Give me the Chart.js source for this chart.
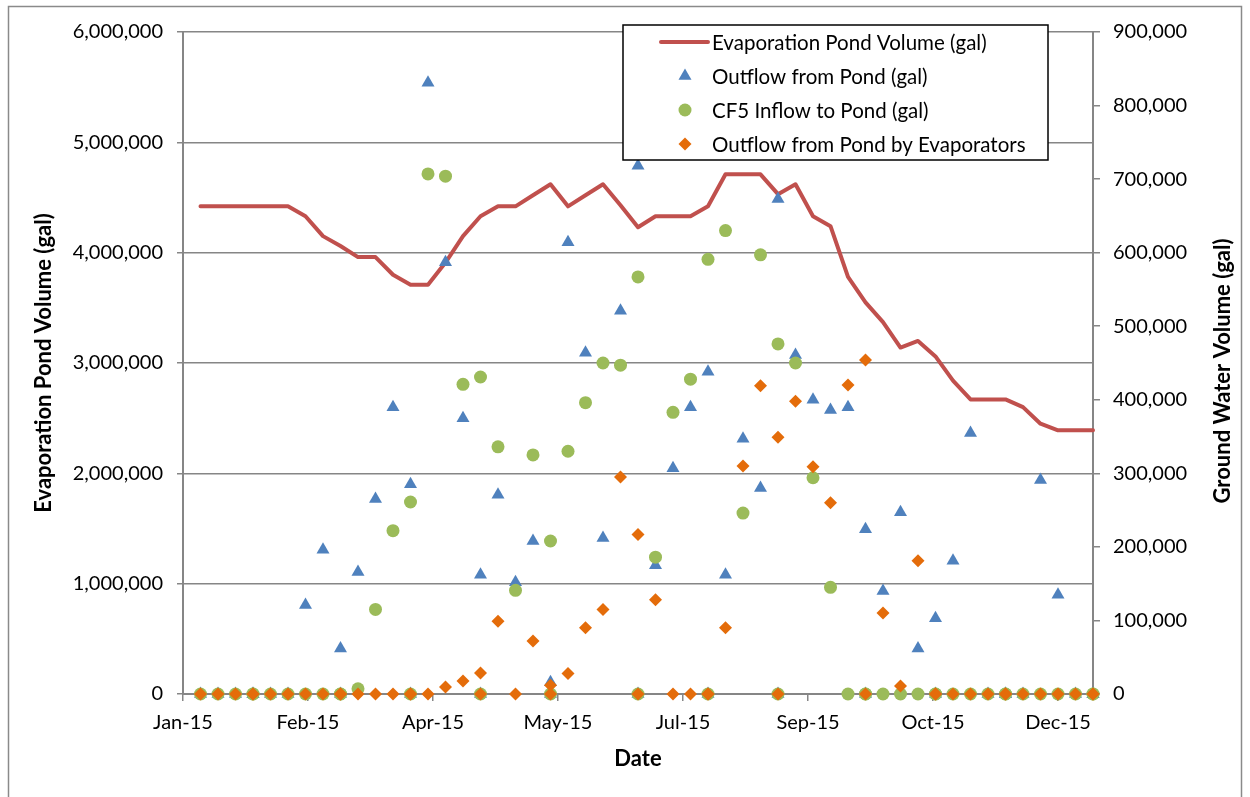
<!DOCTYPE html>
<html>
<head>
<meta charset="utf-8">
<title>Evaporation Pond Volume 2015</title>
<script src="https://cdn.jsdelivr.net/npm/chart.js@4.4.1/dist/chart.umd.min.js"></script>
<style>
  html, body { margin: 0; padding: 0; background: #ffffff; }
  #wrap { width: 1250px; height: 797px; }
</style>
</head>
<body>
<div id="wrap"><canvas id="chart" width="1250" height="797"></canvas></div>
<script>
// Weekly reading dates (2015)
const weekDates = [
  '2015-01-08','2015-01-15','2015-01-22','2015-01-29',
  '2015-02-05','2015-02-12','2015-02-19','2015-02-26',
  '2015-03-05','2015-03-12','2015-03-19','2015-03-26',
  '2015-04-02','2015-04-09','2015-04-16','2015-04-23','2015-04-30',
  '2015-05-07','2015-05-14','2015-05-21','2015-05-28',
  '2015-06-04','2015-06-11','2015-06-18','2015-06-25',
  '2015-07-02','2015-07-09','2015-07-16','2015-07-23','2015-07-30',
  '2015-08-06','2015-08-13','2015-08-20','2015-08-27',
  '2015-09-03','2015-09-10','2015-09-17','2015-09-24',
  '2015-10-01','2015-10-08','2015-10-15','2015-10-22','2015-10-29',
  '2015-11-05','2015-11-12','2015-11-19','2015-11-26',
  '2015-12-03','2015-12-10','2015-12-17','2015-12-24','2015-12-31'
];

// Evaporation pond volume (gal), left axis
const pondVolume = [
  4420000, 4420000, 4420000, 4420000,
  4420000, 4420000, 4330000, 4150000,
  4060000, 3960000, 3960000, 3800000,
  3710000, 3710000, 3910000, 4150000, 4330000,
  4420000, 4420000, 4520000, 4620000,
  4420000, 4520000, 4620000, 4430000,
  4230000, 4330000, 4330000, 4330000, 4420000,
  4710000, 4710000, 4710000, 4530000,
  4620000, 4330000, 4240000, 3780000,
  3550000, 3370000, 3140000, 3200000, 3060000,
  2840000, 2670000, 2670000, 2670000,
  2600000, 2450000, 2390000, 2390000, 2390000
];

// Outflow from pond (gal), right axis
const outflow = [
  0, 0, 0, 0,
  0, 0, 121000, 196000,
  62000, 166000, 265000, 390000,
  285000, 831000, 587000, 375000, 162000,
  271000, 152000, 208000, 16000,
  614000, 464000, 212000, 521000,
  718000, 175000, 307000, 390000, 438000,
  162000, 347000, 280000, 673000,
  461000, 400000, 386000, 390000,
  224000, 140000, 247000, 62000, 103000,
  181000, 355000, 0, 0,
  0, 291000, 135000, 0, 0
];

// CF5 inflow to pond (gal), right axis
const cf5Inflow = [
  0, 0, 0, 0,
  0, 0, 0, 0,
  0, 7000, 115000, 222000,
  261000, 707000, 704000, 421000, 431000,
  336000, 141000, 325000, 208000,
  330000, 396000, 450000, 447000,
  567000, 186000, 383000, 428000, 591000,
  630000, 246000, 597000, 476000,
  450000, 294000, 145000, 0,
  0, 0, 0, 0, 0,
  0, 0, 0, 0,
  0, 0, 0, 0, 0
];

// Outflow from pond by evaporators (gal), right axis
const evaporatorOutflow = [
  0, 0, 0, 0,
  0, 0, 0, 0,
  0, 0, 0, 0,
  0, 0, 9500, 17700, 28500,
  99000, 0, 72000, 12000,
  28000, 90000, 115000, 295000,
  217000, 128000, 0, 0, 0,
  90000, 310000, 419000, 349000,
  398000, 309000, 260000, 420000,
  454000, 110000, 11000, 181000, 0,
  0, 0, 0, 0,
  0, 0, 0, 0, 0
];

// Month-end records logged with zero flow in every column
const zeroRecordDates = [
  '2015-01-29','2015-03-05','2015-04-02','2015-04-30','2015-05-28','2015-07-02',
  '2015-07-30','2015-08-27','2015-10-01','2015-10-29','2015-11-26','2015-12-31'
];

// Axis settings
const axisStartDate = '2015-01-01';
const axisEndDate = '2015-12-31';
const dateTickStepDays = 50;
const leftAxisMax = 6000000, leftAxisStep = 1000000;
const rightAxisMax = 900000, rightAxisStep = 100000;
const leftAxisTitle = 'Evaporation Pond Volume (gal)';
const rightAxisTitle = 'Ground Water Volume (gal)';
const monthNames = ['Jan','Feb','Mar','Apr','May','Jun','Jul','Aug','Sep','Oct','Nov','Dec'];

const DAY_MS = 86400000;
const parseDay = s => { const [y, m, d] = s.split('-').map(Number); return Date.UTC(y, m - 1, d); };
const startMs = parseDay(axisStartDate);
const dayIndex = s => Math.round((parseDay(s) - startMs) / DAY_MS);
const formatDay = v => {
  const dt = new Date(startMs + v * DAY_MS);
  return monthNames[dt.getUTCMonth()] + '-' + String(dt.getUTCFullYear()).slice(2);
};

const seriesPoints = values =>
  weekDates.map((d, i) => ({ x: dayIndex(d), y: values[i] }))
    .concat(zeroRecordDates.map(d => ({ x: dayIndex(d), y: 0 })));

const GRID = '#868686';
const FONT = 'Lato';

// Outer chart frame, right-axis title (reading upward) and the boxed legend
const framePlugin = {
  id: 'frameAndLegend',
  afterDraw(chart) {
    const ctx = chart.ctx;
    ctx.save();
    // outer frame
    ctx.strokeStyle = '#8a8a8a';
    ctx.lineWidth = 1.5;
    ctx.strokeRect(8.5, 6.5, 1233, 810);

    // right axis title, rotated like the left one
    const area = chart.chartArea;
    ctx.save();
    ctx.translate(1223, (area.top + area.bottom) / 2 + 8);
    ctx.rotate(-Math.PI / 2);
    ctx.fillStyle = '#000000';
    ctx.font = 'bold 22px ' + FONT;
    ctx.textAlign = 'center';
    ctx.textBaseline = 'middle';
    ctx.fillText(rightAxisTitle, 0, 0);
    ctx.restore();

    // legend box
    const box = { x: 623, y: 25, w: 425, h: 135 };
    ctx.fillStyle = '#ffffff';
    ctx.fillRect(box.x, box.y, box.w, box.h);
    ctx.strokeStyle = '#000000';
    ctx.lineWidth = 1.5;
    ctx.strokeRect(box.x, box.y, box.w, box.h);

    const symX = 685, textX = 712;
    chart.data.datasets.forEach((ds, i) => {
      const cy = box.y + 17 + i * 34;
      if (ds.type === 'line') {
        ctx.strokeStyle = ds.borderColor;
        ctx.lineWidth = ds.borderWidth;
        ctx.lineCap = 'round';
        ctx.beginPath();
        ctx.moveTo(661, cy);
        ctx.lineTo(708, cy);
        ctx.stroke();
      } else {
        const r = ds.pointRadius;
        ctx.beginPath();
        if (ds.pointStyle === 'triangle') {
          ctx.moveTo(symX, cy - r);
          ctx.lineTo(symX + r * Math.sin(2 * Math.PI / 3), cy + r / 2);
          ctx.lineTo(symX - r * Math.sin(2 * Math.PI / 3), cy + r / 2);
          ctx.closePath();
        } else if (ds.pointStyle === 'rectRot') {
          ctx.moveTo(symX, cy - r);
          ctx.lineTo(symX + r, cy);
          ctx.lineTo(symX, cy + r);
          ctx.lineTo(symX - r, cy);
          ctx.closePath();
        } else {
          ctx.arc(symX, cy, r, 0, Math.PI * 2);
        }
        ctx.fillStyle = ds.pointBackgroundColor;
        ctx.fill();
      }
      ctx.fillStyle = '#000000';
      ctx.font = '20.5px ' + FONT;
      ctx.textBaseline = 'middle';
      ctx.textAlign = 'left';
      ctx.fillText(ds.label, textX, cy + 1);
    });
    ctx.restore();
  }
};

const scatterSet = (label, values, color, style, radius, order) => ({
  type: 'scatter',
  label,
  data: seriesPoints(values),
  yAxisID: 'y2',
  order,
  showLine: false,
  pointStyle: style,
  pointRadius: radius,
  pointHoverRadius: radius,
  pointBackgroundColor: color,
  pointBorderColor: color,
  pointBorderWidth: 0,
  backgroundColor: color,
  borderColor: color,
  clip: false
});

const endDay = dayIndex(axisEndDate);

new Chart(document.getElementById('chart'), {
  type: 'scatter',
  data: {
    datasets: [
      {
        type: 'line',
        label: 'Evaporation Pond Volume (gal)',
        data: weekDates.map((d, i) => ({ x: dayIndex(d), y: pondVolume[i] })),
        yAxisID: 'y',
        order: 4,
        borderColor: '#C0504D',
        backgroundColor: '#C0504D',
        borderWidth: 4,
        borderJoinStyle: 'round',
        borderCapStyle: 'round',
        pointRadius: 0,
        tension: 0,
        fill: false,
        clip: false
      },
      scatterSet('Outflow from Pond (gal)', outflow, '#4F81BD', 'triangle', 7.5, 3),
      scatterSet('CF5 Inflow to Pond (gal)', cf5Inflow, '#9BBB59', 'circle', 6.5, 2),
      scatterSet('Outflow from Pond by Evaporators', evaporatorOutflow, '#E46C0A', 'rectRot', 6.5, 1)
    ]
  },
  options: {
    responsive: false,
    animation: false,
    events: [],
    layout: { padding: { top: 32, left: 0, right: 0, bottom: 0 } },
    plugins: {
      legend: { display: false },
      tooltip: { enabled: false },
      title: { display: false }
    },
    scales: {
      x: {
        type: 'linear',
        position: 'bottom',
        min: 0,
        max: endDay,
        afterFit: s => { s.height = 103; },
        // date ticks every 50 days from the start of the axis
        afterBuildTicks: s => {
          const ticks = [];
          for (let v = 0; v < endDay; v += dateTickStepDays) ticks.push({ value: v });
          s.ticks = ticks;
        },
        ticks: {
          stepSize: dateTickStepDays,
          autoSkip: false,
          maxRotation: 0,
          padding: 10,
          color: '#000000',
          font: { family: FONT, size: 20 },
          callback: v => formatDay(v)
        },
        grid: { drawOnChartArea: false, drawTicks: true, tickLength: 7, color: GRID, lineWidth: 1.5 },
        border: { display: true, color: GRID, width: 2 },
        title: {
          display: true,
          text: 'Date',
          color: '#000000',
          font: { family: FONT, size: 22, weight: 'bold' },
          padding: { top: 0, bottom: 25 }
        }
      },
      y: {
        type: 'linear',
        position: 'left',
        min: 0,
        max: leftAxisMax,
        afterFit: s => { s.width = 183; },
        ticks: {
          stepSize: leftAxisStep,
          padding: 14,
          color: '#000000',
          font: { family: FONT, size: 20 },
          callback: v => Number(v).toLocaleString('en-US')
        },
        grid: { drawOnChartArea: true, drawTicks: true, tickLength: 6, color: GRID, lineWidth: 1.5 },
        border: { display: true, color: GRID, width: 2 },
        title: {
          display: true,
          text: leftAxisTitle,
          color: '#000000',
          font: { family: FONT, size: 22, weight: 'bold' },
          padding: { top: 31, bottom: 0 }
        }
      },
      y2: {
        type: 'linear',
        position: 'right',
        min: 0,
        max: rightAxisMax,
        afterFit: s => { s.width = 157; },
        ticks: {
          stepSize: rightAxisStep,
          padding: 13,
          color: '#000000',
          font: { family: FONT, size: 20 },
          callback: v => Number(v).toLocaleString('en-US')
        },
        grid: { drawOnChartArea: false, drawTicks: true, tickLength: 7, color: GRID, lineWidth: 1.5 },
        border: { display: true, color: GRID, width: 2 },
        title: { display: false }
      }
    }
  },
  plugins: [framePlugin]
});
</script>
</body>
</html>
